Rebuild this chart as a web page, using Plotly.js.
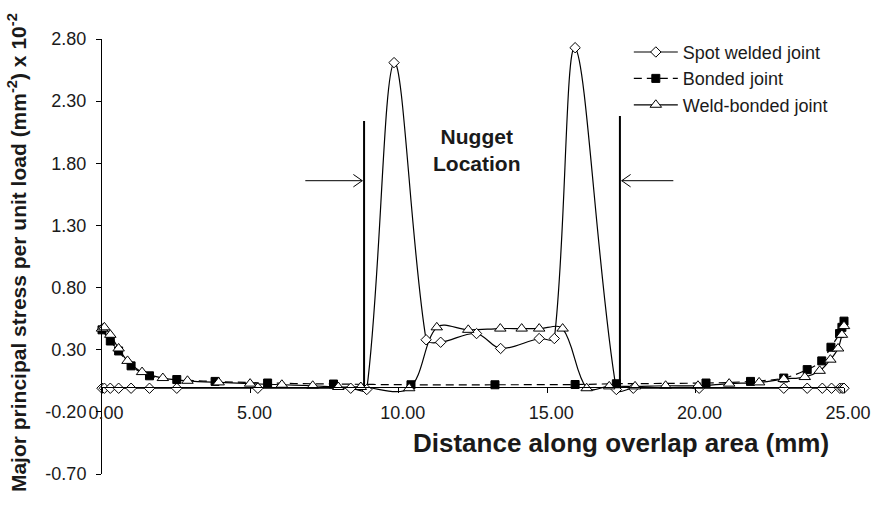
<!DOCTYPE html>
<html>
<head>
<meta charset="utf-8">
<script src="https://cdn.plot.ly/plotly-3.0.1.min.js"></script>
<style>html,body{margin:0;padding:0;background:#fff;}#chart{width:878px;height:509px;}</style>
</head>
<body>
<div id="chart"></div>
<script>
// Spot welded joint
var spotX = [0, 0.08, 0.28, 0.56, 0.98, 1.6, 2.52, 5.25, 8.38, 8.92, 9.84, 10.92, 11.41, 12.62, 13.43, 14.73, 15.24, 15.94, 17.33, 17.9, 20.12, 22.97, 23.76, 24.27, 24.58, 24.86, 24.94, 25.0];
var spotY = [-0.01, -0.01, -0.01, -0.01, -0.01, -0.01, -0.01, -0.01, -0.01, -0.02, 2.61, 0.38, 0.36, 0.43, 0.31, 0.39, 0.39, 2.73, -0.02, -0.01, -0.01, -0.01, -0.01, -0.01, -0.01, -0.01, -0.01, -0.01];
// Bonded joint
var bondX = [0, 0.28, 0.56, 0.98, 1.6, 2.52, 3.81, 5.58, 7.8, 10.41, 13.24, 15.94, 17.33, 20.35, 21.85, 22.97, 23.76, 24.25, 24.56, 24.85, 24.93, 25.0];
var bondY = [0.46, 0.37, 0.29, 0.17, 0.09, 0.06, 0.045, 0.032, 0.024, 0.018, 0.018, 0.02, 0.026, 0.032, 0.045, 0.072, 0.14, 0.21, 0.32, 0.43, 0.48, 0.53];
// Weld-bonded joint
var weldX = [0, 0.08, 0.28, 0.56, 0.86, 1.35, 2.05, 2.88, 3.93, 4.99, 6.06, 7.1, 7.96, 8.72, 10.35, 11.28, 12.34, 13.42, 14.14, 14.73, 15.52, 16.33, 17.09, 17.96, 18.99, 20.08, 21.13, 22.14, 22.97, 23.68, 24.18, 24.54, 24.8, 24.93, 25.0];
var weldY = [0.47, 0.48, 0.42, 0.31, 0.21, 0.12, 0.072, 0.05, 0.037, 0.027, 0.018, 0.01, 0.0, 0.0, -0.01, 0.48, 0.46, 0.47, 0.47, 0.47, 0.47, -0.01, 0.005, 0.005, 0.01, 0.01, 0.027, 0.037, 0.064, 0.08, 0.13, 0.22, 0.31, 0.42, 0.49];

var seriesNames = ["Spot welded joint", "Bonded joint", "Weld-bonded joint"];
var xTicks = [0, 5, 10, 15, 20, 25];
var yTicks = [-0.7, -0.2, 0.3, 0.8, 1.3, 1.8, 2.3, 2.8];
// Nugget edges and annotation anchor (data units)
var nuggetEdges = [8.83, 17.45];
var nuggetTops = [2.14, 2.18];
var arrowY = 1.66;
var arrowStarts = [6.85, 19.25];

var FONT = '"Liberation Sans", Arial, sans-serif';
var INK = '#1a1a1a';

var W = 878, H = 509, M = {l: 102, r: 34, t: 39, b: 35};
var XR = [0, 25], YR = [-0.7, 2.8];
var sx = (W - M.l - M.r) / (XR[1] - XR[0]);
var sy = (H - M.t - M.b) / (YR[1] - YR[0]);

// Excel-like smoothed line: cubic Bezier segments (chord-length Catmull-Rom) in data coordinates
function smoothPath(xs, ys) {
  var n = xs.length;
  function d(i, j) { return Math.hypot((xs[i] - xs[j]) * sx, (ys[i] - ys[j]) * sy); }
  function tan(i) {
    var a = Math.max(i - 1, 0), b = Math.min(i + 1, n - 1);
    return [xs[b] - xs[a], ys[b] - ys[a]];
  }
  var p = 'M' + xs[0] + ',' + ys[0];
  for (var i = 0; i < n - 1; i++) {
    var dprev = i > 0 ? d(i - 1, i) : 0;
    var dseg = d(i, i + 1);
    var dnext = i + 2 < n ? d(i + 1, i + 2) : 0;
    var t1 = tan(i), t2 = tan(i + 1);
    var f1 = (dprev + dseg) > 0 ? dseg / (dprev + dseg) / 3 : 0;
    var f2 = (dseg + dnext) > 0 ? dseg / (dseg + dnext) / 3 : 0;
    var c1x = xs[i] + t1[0] * f1, c1y = ys[i] + t1[1] * f1;
    var c2x = xs[i + 1] - t2[0] * f2, c2y = ys[i + 1] - t2[1] * f2;
    p += ' C' + c1x + ',' + c1y + ' ' + c2x + ',' + c2y + ' ' + xs[i + 1] + ',' + ys[i + 1];
  }
  return p;
}

var markerStyles = [
  {symbol: 'diamond', size: 8, color: '#fff', line: {color: '#000', width: 1}},
  {symbol: 'square', size: 8, color: '#000', line: {color: '#000', width: 1}},
  {symbol: 'triangle-up', size: 10, color: '#fff', line: {color: '#000', width: 1}}
];
var lineStyles = [
  {color: '#000', width: 1.2},
  {color: '#000', width: 1.2, dash: '8px,5px'},
  {color: '#000', width: 1.2}
];
var seriesX = [spotX, bondX, weldX], seriesY = [spotY, bondY, weldY];

var traces = [];
for (var s = 0; s < 3; s++) {
  traces.push({x: seriesX[s], y: seriesY[s], name: seriesNames[s], type: 'scatter', mode: 'markers',
    marker: markerStyles[s], cliponaxis: false, showlegend: false, hoverinfo: 'skip'});
}
for (var s2 = 0; s2 < 3; s2++) {
  traces.push({x: [null], y: [null], name: seriesNames[s2], type: 'scatter', mode: 'lines+markers',
    line: lineStyles[s2], marker: markerStyles[s2], showlegend: true});
}

var shapes = [];
for (var k = 0; k < 3; k++) {
  shapes.push({type: 'path', xref: 'x', yref: 'y', layer: 'below', path: smoothPath(seriesX[k], seriesY[k]),
    line: lineStyles[k], fillcolor: 'rgba(0,0,0,0)'});
}
nuggetEdges.forEach(function (xe, i) {
  shapes.push({type: 'line', xref: 'x', yref: 'y', layer: 'below', x0: xe, x1: xe, y0: 0, y1: nuggetTops[i], line: {color: '#000', width: 2}});
});
[0, 1].forEach(function (i) {
  var xs = arrowStarts[i], xe = nuggetEdges[i] + (i === 0 ? -0.06 : 0.06);
  var dir = i === 0 ? 1 : -1;
  var hx = xe - dir * 0.3, hy = 0.05;
  shapes.push({type: 'path', xref: 'x', yref: 'y',
    path: 'M' + xs + ',' + arrowY + ' L' + xe + ',' + arrowY + ' M' + hx + ',' + (arrowY + hy) + ' L' + xe + ',' + arrowY + ' L' + hx + ',' + (arrowY - hy),
    line: {color: '#000', width: 1}});
});

var layout = {
  width: W, height: H,
  margin: M,
  paper_bgcolor: '#fff', plot_bgcolor: '#fff',
  font: {family: FONT, color: INK, size: 18},
  showlegend: true,
  legend: {x: 0.71, y: 1.012, xanchor: 'left', yanchor: 'top', bgcolor: 'rgba(0,0,0,0)',
           font: {family: FONT, size: 18, color: INK}, itemwidth: 44, tracegroupgap: 0},
  xaxis: {range: XR, tickvals: xTicks, ticktext: xTicks.map(function (v) { return v.toFixed(2); }),
          anchor: 'free', position: (0 - YR[0]) / (YR[1] - YR[0]), showline: true, linecolor: '#000', linewidth: 1,
          ticks: 'outside', ticklen: 5, tickcolor: '#000', showgrid: false, zeroline: false,
          tickfont: {family: FONT, size: 18, color: INK}, ticklabelstandoff: 4, ticklabelshift: 4},
  yaxis: {range: YR, tickvals: yTicks, ticktext: yTicks.map(function (v) { return v.toFixed(2); }),
          showline: true, linecolor: '#000', linewidth: 1, ticks: 'outside', ticklen: 5, tickcolor: '#000',
          showgrid: false, zeroline: false, tickfont: {family: FONT, size: 18, color: INK}, ticklabelstandoff: 6},
  shapes: shapes,
  annotations: [
    {xref: 'x', yref: 'y', x: 12.63, y: 1.91, text: '<b>Nugget<br>Location</b>', showarrow: false,
     font: {family: FONT, size: 21, color: INK}, align: 'center'},
    {xref: 'paper', yref: 'paper', x: 0.70, y: 0.072, text: '<b>Distance along overlap area (mm)</b>', showarrow: false,
     font: {family: FONT, size: 26, color: INK}, xanchor: 'center', yanchor: 'middle'},
    {xref: 'paper', yref: 'paper', x: -0.1146, y: 0.51, textangle: -90,
     text: '<b>Major principal stress per unit load (mm<sup>-2</sup>) x 10<sup>-2</sup></b>', showarrow: false,
     font: {family: FONT, size: 21, color: INK}, xanchor: 'center', yanchor: 'middle'}
  ]
};

Plotly.newPlot('chart', traces, layout, {staticPlot: true, displayModeBar: false});
</script>
</body>
</html>
